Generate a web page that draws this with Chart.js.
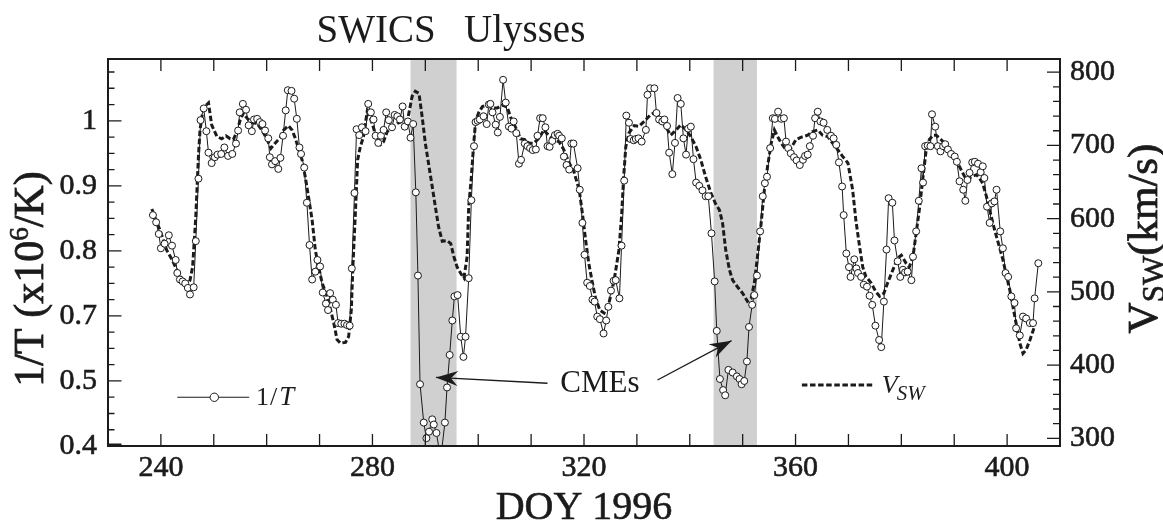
<!DOCTYPE html>
<html><head><meta charset="utf-8">
<script src="https://cdn.jsdelivr.net/npm/chart.js@4.4.1/dist/chart.umd.min.js"></script>
<style>html,body{margin:0;padding:0;background:#fff;overflow:hidden}canvas{display:block}</style>
</head><body>
<canvas id="c" width="1163" height="529" style="width:1163px;height:529px"></canvas>
<script>
// ---------- data ----------
const tDays = [238.5,239.1,239.6,240.0,240.7,241.5,242.1,242.8,243.1,243.6,244.1,244.6,245.1,245.5,246.2,246.6,247.1,247.5,248.1,248.6,
249.0,249.6,250.2,250.7,251.4,252.0,252.7,253.5,254.2,254.6,254.9,255.5,256.1,256.6,257.2,257.6,258.2,258.7,259.2,259.7,
260.3,260.6,261.0,261.6,262.2,262.6,263.1,263.6,264.0,264.7,265.2,265.7,266.2,266.5,267.1,267.6,268.1,268.6,269.2,269.6,
270.1,270.6,271.2,271.6,272.0,272.5,273.1,273.5,274.1,274.7,275.2,275.7,276.1,276.6,277.0,277.5,278.0,278.7,279.2,279.7,
280.2,280.6,281.1,281.6,282.1,282.6,283.1,283.7,284.2,284.7,285.2,285.7,286.1,286.7,287.2,287.7,288.2,288.6,289.0,
289.7,290.2,290.7,291.3,291.6,292.1,292.9,293.7,294.1,294.6,295.1,295.5,296.1,296.7,297.2,297.6,298.2,298.7,299.2,299.5,
299.9,300.3,301.0,301.6,302.0,302.3,302.7,303.3,303.7,304.1,304.7,305.2,305.8,306.3,306.7,307.2,307.7,308.1,308.8,309.3,
309.8,310.3,310.9,311.2,311.7,312.2,312.7,313.1,313.5,314.0,314.5,315.0,315.3,315.8,316.2,316.7,317.2,317.6,318.0,318.8,
319.2,319.7,320.1,320.6,321.1,321.6,322.0,322.5,323.0,323.7,324.2,324.6,325.1,325.6,326.0,326.7,327.1,327.6,328.0,328.5,
328.8,329.4,329.8,330.3,330.9,331.7,332.0,332.5,333.3,333.7,334.2,334.8,335.2,335.7,336.1,336.7,337.2,337.7,338.3,338.8,
339.3,339.7,340.2,340.7,341.2,341.8,342.4,343.0,343.5,344.1,344.7,345.1,
345.7,346.3,346.7,347.3,348.1,348.9,349.4,349.8,350.3,350.8,351.2,351.8,352.2,352.7,353.3,353.8,354.2,354.6,355.2,355.7,
356.1,356.7,357.3,357.8,358.2,358.6,359.1,359.7,360.2,360.8,361.4,361.8,362.3,362.7,363.3,363.7,364.2,364.7,365.3,366.0,
366.7,367.2,367.7,368.2,368.8,369.1,369.6,370.1,370.4,371.1,371.5,371.8,372.4,372.9,373.5,374.0,374.5,375.1,375.8,376.2,
376.7,377.2,377.6,378.3,378.7,379.3,379.8,380.3,380.7,381.2,381.9,382.2,382.8,383.3,383.8,384.1,384.5,385.0,385.5,385.8,
386.4,386.9,387.4,387.9,388.3,388.8,389.4,390.1,390.5,391.0,391.7,392.1,392.5,392.9,393.4,393.9,394.5,395.0,395.4,395.7,
396.2,396.7,397.1,397.6,398.0,398.7,399.2,399.7,400.2,400.8,401.4,401.7,402.4,403.0,403.6,404.3,404.9,405.2,405.9];
const tVals = [0.855,0.844,0.826,0.804,0.811,0.824,0.808,0.786,0.766,0.756,0.753,0.750,0.743,0.733,0.744,0.815,0.911,1.001,1.019,0.984,
0.951,0.935,0.944,0.948,0.949,0.959,0.946,0.949,0.965,0.985,1.013,1.026,1.017,0.993,0.984,1.002,1.003,0.998,0.995,0.985,
0.973,0.944,0.933,0.938,0.926,0.943,0.977,1.016,1.047,1.046,1.034,1.003,0.959,0.949,0.928,0.874,0.809,0.756,0.768,0.786,
0.776,0.736,0.719,0.709,0.735,0.725,0.717,0.689,0.688,0.688,0.686,0.685,0.773,0.889,0.987,0.978,0.990,0.984,1.026,1.013,
1.002,0.977,0.966,0.977,0.986,1.013,1.001,0.990,1.009,1.007,1.002,1.022,0.991,0.999,0.974,0.995,0.890,0.762,0.595,
0.536,0.512,0.522,0.541,0.533,0.520,0.480,0.536,0.590,0.640,0.693,0.730,0.732,0.668,0.637,0.668,0.758,0.878,0.961,0.998,
1.000,1.002,1.007,0.995,1.025,1.026,1.013,0.994,0.982,1.006,1.063,1.028,0.991,0.988,0.999,0.981,0.934,0.940,0.965,0.961,
0.958,0.955,0.956,0.977,1.004,1.004,0.990,0.961,0.960,0.969,0.978,0.980,0.977,0.973,0.945,0.932,0.925,0.965,0.965,0.927,
0.894,0.843,0.794,0.751,0.746,0.725,0.722,0.699,0.695,0.673,0.693,0.714,0.739,0.754,0.755,0.727,0.808,0.908,1.008,0.997,
0.972,0.970,0.972,0.973,0.968,0.986,1.040,1.050,1.050,1.012,1.002,0.999,1.002,0.992,0.951,0.918,0.966,1.035,1.026,0.973,
0.948,0.988,0.991,0.941,0.905,0.900,0.893,0.884,0.884,0.827,0.753,0.677,
0.603,0.586,0.578,0.617,0.613,0.607,0.603,0.595,0.600,0.630,0.683,0.717,0.732,0.762,0.830,0.884,0.904,0.914,0.958,1.004,
1.003,1.014,1.003,1.004,0.968,0.958,0.950,0.944,0.939,0.932,0.940,0.946,0.948,0.961,0.977,1.004,1.014,0.999,0.997,0.986,
0.977,0.973,0.963,0.936,0.899,0.855,0.796,0.775,0.760,0.787,0.773,0.766,0.760,0.748,0.745,0.731,0.717,0.685,0.663,0.652,
0.722,0.802,0.881,0.874,0.816,0.784,0.760,0.771,0.767,0.768,0.755,0.791,0.830,0.877,0.927,0.905,0.961,0.962,0.961,1.010,
0.991,0.961,0.953,0.961,0.964,0.956,0.949,0.945,0.937,0.907,0.894,0.877,0.909,0.920,0.936,0.937,0.934,0.921,0.930,0.912,
0.868,0.843,0.873,0.876,0.894,0.830,0.804,0.766,0.760,0.730,0.720,0.681,0.670,0.699,0.696,0.689,0.689,0.727,0.781];

const vDays = [238.3,238.9,239.8,241.1,242.1,243.0,244.0,245.0,245.5,246.0,246.6,247.1,247.4,248.0,249.0,249.6,250.6,251.5,252.3,253.1,
253.7,254.4,255.0,255.6,256.3,257.2,258.2,259.1,260.1,260.8,261.6,262.6,263.2,264.1,264.8,265.4,266.0,266.7,267.3,267.9,
268.6,269.2,269.8,270.5,271.4,272.0,272.7,273.3,273.9,274.9,275.5,276.0,276.3,276.8,277.2,277.7,278.3,279.0,279.6,280.2,
280.9,281.5,282.1,282.8,283.7,284.7,285.6,286.6,287.5,288.1,288.8,
289.4,290.0,290.7,291.3,291.9,292.5,293.2,294.1,294.8,295.4,296.0,296.7,297.3,297.9,298.2,298.7,299.1,299.5,300.1,300.8,
301.7,302.7,303.6,304.6,305.5,306.1,307.1,308.0,308.8,309.6,310.5,311.5,312.4,313.4,314.3,315.3,316.2,317.2,318.1,319.1,
319.7,320.3,320.9,321.6,322.2,323.0,323.8,324.7,325.7,326.6,327.1,327.5,327.9,328.5,329.5,330.4,331.7,332.6,333.6,334.5,
335.5,336.4,337.4,338.3,339.3,340.2,341.2,342.1,343.0,344.0,344.9,
345.6,346.2,346.8,347.5,348.1,349.0,350.0,350.9,351.6,352.2,352.8,353.5,354.1,354.7,355.4,356.0,356.6,357.3,358.2,359.1,
360.1,361.0,362.3,363.2,364.2,365.1,366.1,367.0,368.0,368.9,369.9,370.8,371.4,372.1,372.7,373.3,374.3,375.2,375.9,376.7,
377.4,378.4,379.3,380.0,380.9,381.5,382.2,382.8,383.4,384.1,384.7,385.3,386.0,386.6,387.5,388.8,390.1,391.0,392.0,392.6,
393.2,394.2,394.8,395.4,396.1,396.7,397.3,398.0,398.6,399.2,399.9,400.5,401.1,401.8,402.4,403.0,403.6,404.3,405.2];
const vVals = [613,601,585,557,544,530,516,509,516,534,603,685,721,751,758,728,712,709,713,709,
708,719,735,744,737,731,730,721,708,696,703,711,721,727,721,710,696,680,657,630,
598,557,534,512,494,478,457,435,430,431,439,475,534,612,680,698,712,746,737,724,
705,701,705,719,724,730,733,733,767,774,771,
739,703,671,644,616,589,569,570,566,548,534,525,519,548,616,657,698,733,745,753,
755,751,751,755,752,739,724,709,708,703,703,710,721,713,708,705,694,676,664,639,
607,571,539,512,491,475,471,484,516,557,603,657,698,717,727,726,735,742,746,735,
725,714,721,728,721,712,698,680,657,635,620,
612,594,557,530,516,507,498,487,491,512,548,594,639,671,703,721,712,703,694,696,
708,711,714,719,721,714,712,703,694,685,676,639,598,562,534,521,512,500,494,498,
512,530,546,550,539,534,548,580,612,657,694,708,714,714,708,698,685,671,657,653,
657,660,655,648,630,612,594,575,560,544,521,503,480,453,430,416,421,434,453];

const xTickLabels = [240, 280, 320, 360, 400];
const leftTickValues = [0.5, 0.6, 0.7, 0.8, 0.9, 1.0];
const leftTickLabels = ["0.4", "0.5", "0.7", "0.8", "0.9", "1"];
const rightTickLabels = [300, 400, 500, 600, 700, 800];
const cmeBands = [[287.2, 295.9], [344.5, 352.7]];
const cmeArrows = [[[313.1, 0.5965], [292.0, 0.6054]], [[333.9, 0.6015], [347.9, 0.662]]];
const cmeLabel = {text: "CMEs", day: 315.5, val: 0.5826};
const legendT = {from: 243.1, to: 256.7, mark: 250.1, val: 0.5749, textDay: 258.0, textVal: 0.5631};
const legendV = {from: 361.2, to: 374.8, val: 0.5938, textDay: 376.3, textVal: 0.5811};

// ---------- chart ----------
const INK = '#1b1b1b';
const FAM = '"Liberation Serif", "Times New Roman", serif';
const tData = tDays.slice(0, Math.min(tDays.length, tVals.length)).map((d, i) => ({x: d, y: tVals[i]}));
const vData = vDays.slice(0, Math.min(vDays.length, vVals.length)).map((d, i) => ({x: d, y: vVals[i]}));

function range(a, b, s) { const out = []; const n = Math.round((b - a) / s); for (let i = 0; i <= n; i++) out.push(+(a + i * s).toFixed(4)); return out; }
const xTickPos = range(230, 410, 10);
const yTickPos = range(0.5, 1.075, 0.025);
const y2TickPos = range(300, 800, 20);

function parts(ctx, list, x, y) {
  let cx = x;
  for (const p of list) {
    ctx.font = p.font;
    ctx.fillText(p.t, cx, y + (p.dy || 0));
    if (p.sw) { ctx.lineWidth = p.sw; ctx.strokeText(p.t, cx, y + (p.dy || 0)); }
    cx += ctx.measureText(p.t).width + (p.gap || 0);
  }
  return cx - x;
}
function measureParts(ctx, list) {
  let w = 0;
  for (const p of list) { ctx.font = p.font; w += ctx.measureText(p.t).width + (p.gap || 0); }
  return w;
}
function arrow(ctx, x0, y0, x1, y1) {
  ctx.beginPath(); ctx.moveTo(x0, y0); ctx.lineTo(x1, y1); ctx.lineWidth = 1.3; ctx.stroke();
  const ang = Math.atan2(y1 - y0, x1 - x0), L = 22, W = 7.5, N = 15;
  ctx.save(); ctx.translate(x1, y1); ctx.rotate(ang);
  ctx.beginPath(); ctx.moveTo(0, 0); ctx.lineTo(-L, -W); ctx.lineTo(-N, 0); ctx.lineTo(-L, W); ctx.closePath(); ctx.fill();
  ctx.restore();
}

const decor = {
  id: 'decor',
  beforeDraw(chart) {
    const {ctx, width, height} = chart;
    ctx.save(); ctx.fillStyle = '#fff'; ctx.fillRect(0, 0, width, height); ctx.restore();
  },
  beforeDatasetsDraw(chart) {
    const {ctx, chartArea: a, scales: {x}} = chart;
    ctx.save(); ctx.fillStyle = '#d0d0d0';
    for (const [s, e] of cmeBands) {
      const x0 = x.getPixelForValue(s), x1 = x.getPixelForValue(e);
      ctx.fillRect(x0, a.top, x1 - x0, a.bottom - a.top);
    }
    ctx.restore();
  },
  afterDatasetsDraw(chart) {
    const {ctx, chartArea: a, scales: {x, y, y2}} = chart;
    ctx.save();
    ctx.strokeStyle = INK; ctx.fillStyle = INK; ctx.lineWidth = 1.3;
    ctx.beginPath();
    for (const t of x.ticks) {
      const px = x.getPixelForValue(t.value);
      if (px <= a.left + 1 || px >= a.right - 1) continue;
      ctx.moveTo(px, a.bottom); ctx.lineTo(px, a.bottom - 12);
      ctx.moveTo(px, a.top); ctx.lineTo(px, a.top + 12);
    }
    for (const t of y.ticks) {
      const py = y.getPixelForValue(t.value);
      const major = leftTickValues.some(v => Math.abs(v - t.value) < 1e-6);
      ctx.moveTo(a.left, py); ctx.lineTo(a.left + (major ? 13.5 : 6.5), py);
    }
    for (const t of y2.ticks) {
      const py = y2.getPixelForValue(t.value);
      const major = rightTickLabels.includes(Math.round(t.value));
      ctx.moveTo(a.right, py); ctx.lineTo(a.right - (major ? 13 : 7), py);
    }
    ctx.stroke();
    // heavier corner tick at the axis origin
    ctx.lineWidth = 3; ctx.beginPath();
    ctx.moveTo(a.left, y.getPixelForValue(leftTickValues[0]) - 1); ctx.lineTo(a.left + 13.5, y.getPixelForValue(leftTickValues[0]) - 1); ctx.stroke();
    // frame
    ctx.lineWidth = 2; ctx.strokeRect(a.left, a.top, a.right - a.left, a.bottom - a.top);

    // arrows
    for (const [[d0, v0], [d1, v1]] of cmeArrows) {
      arrow(ctx, x.getPixelForValue(d0), y.getPixelForValue(v0), x.getPixelForValue(d1), y.getPixelForValue(v1));
    }
    ctx.textBaseline = 'alphabetic'; ctx.textAlign = 'left';
    ctx.font = '31px ' + FAM;
    ctx.fillText(cmeLabel.text, x.getPixelForValue(cmeLabel.day), y.getPixelForValue(cmeLabel.val));

    // legend 1/T
    const ly = y.getPixelForValue(legendT.val);
    ctx.lineWidth = 1.1; ctx.beginPath();
    ctx.moveTo(x.getPixelForValue(legendT.from), ly); ctx.lineTo(x.getPixelForValue(legendT.to), ly); ctx.stroke();
    ctx.beginPath(); ctx.arc(x.getPixelForValue(legendT.mark), ly, 4.2, 0, Math.PI * 2);
    ctx.fillStyle = '#fff'; ctx.fill(); ctx.lineWidth = 1; ctx.stroke(); ctx.fillStyle = INK;
    parts(ctx, [{t: '1', font: '26px ' + FAM, gap: 1}, {t: '/', font: '26px ' + FAM, gap: 2}, {t: 'T', font: 'italic 27px ' + FAM}],
      x.getPixelForValue(legendT.textDay), y.getPixelForValue(legendT.textVal));

    // legend V_SW
    const vy = y.getPixelForValue(legendV.val);
    ctx.save(); ctx.lineWidth = 3; ctx.setLineDash([5.5, 2.6]); ctx.beginPath();
    ctx.moveTo(x.getPixelForValue(legendV.from), vy); ctx.lineTo(x.getPixelForValue(legendV.to), vy); ctx.stroke(); ctx.restore();
    parts(ctx, [{t: 'V', font: 'italic 26px ' + FAM, gap: -1}, {t: 'SW', font: 'italic 21px ' + FAM, dy: 7}],
      x.getPixelForValue(legendV.textDay), y.getPixelForValue(legendV.textVal));

    // title
    ctx.font = '39px ' + FAM;
    ctx.fillText('SWICS', 316.5, 41.5);
    ctx.fillText('Ulysses', 464, 41.5);

    // x title
    ctx.textAlign = 'center';
    ctx.font = '40px ' + FAM; ctx.lineWidth = 0.6; ctx.strokeStyle = INK;
    ctx.fillText('DOY 1996', (a.left + a.right) / 2, 519); ctx.strokeText('DOY 1996', (a.left + a.right) / 2, 519);
    ctx.textAlign = 'left';

    // left y title (rotated)
    const lt = [{t: '1/T (x10', font: '42px ' + FAM, sw: 0.8}, {t: '6', font: '27px ' + FAM, dy: -15, sw: 0.6}, {t: '/K)', font: '42px ' + FAM, sw: 0.8}];
    ctx.save(); ctx.translate(42.5, 279); ctx.rotate(-Math.PI / 2);
    parts(ctx, lt, -measureParts(ctx, lt) / 2, 0); ctx.restore();

    // right y title (rotated)
    const rt = [{t: 'V', font: '43px ' + FAM, sw: 0.8}, {t: 'SW', font: '31px ' + FAM, dy: 7, sw: 0.6}, {t: '(km/s)', font: '43px ' + FAM, sw: 0.8}];
    ctx.save(); ctx.translate(1156.5, 238.5); ctx.rotate(-Math.PI / 2);
    parts(ctx, rt, -measureParts(ctx, rt) / 2, 0); ctx.restore();

    ctx.restore();
  }
};

const tickFont = {family: 'Liberation Serif', size: 30};
new Chart(document.getElementById('c'), {
  type: 'scatter',
  data: {
    datasets: [
      {label: 'V_SW', data: vData, yAxisID: 'y2', showLine: true, borderColor: INK, borderWidth: 3,
       borderDash: [5.5, 2.6], pointRadius: 0, pointHoverRadius: 0, tension: 0, fill: false, order: 2},
      {label: '1/T', data: tData, yAxisID: 'y', showLine: true, borderColor: INK, borderWidth: 1,
       pointRadius: 3.5, pointHoverRadius: 3.5, pointBackgroundColor: '#fff', pointBorderColor: INK,
       pointBorderWidth: 1, tension: 0, fill: false, order: 1}
    ]
  },
  options: {
    responsive: false, animation: false, devicePixelRatio: 1,
    layout: {padding: {top: 59, left: 0, right: 0, bottom: 0}},
    plugins: {legend: {display: false}, title: {display: false}, tooltip: {enabled: false}},
    events: [],
    scales: {
      x: {
        type: 'linear', position: 'bottom', min: 230, max: 410,
        grid: {display: false, drawTicks: false}, border: {display: false},
        afterBuildTicks: s => { s.ticks = xTickPos.map(v => ({value: v})); },
        ticks: {autoSkip: false, maxRotation: 0, padding: 4, font: tickFont, color: INK,
                textStrokeColor: INK, textStrokeWidth: 0.6,
                callback: v => xTickLabels.includes(Math.round(v)) ? String(Math.round(v)) : ''},
        afterFit: s => { s.height = 83; }
      },
      y: {
        type: 'linear', position: 'left', min: 0.5, max: 1.095,
        grid: {display: false, drawTicks: false}, border: {display: false},
        afterBuildTicks: s => { s.ticks = yTickPos.map(v => ({value: v})); },
        ticks: {autoSkip: false, padding: 11, font: tickFont, color: INK,
                textStrokeColor: INK, textStrokeWidth: 0.6,
                callback: v => { const i = leftTickValues.findIndex(t => Math.abs(t - v) < 1e-6); return i >= 0 ? leftTickLabels[i] : ''; }},
        afterFit: s => { s.width = 108; }
      },
      y2: {
        type: 'linear', position: 'right', min: 289.5, max: 818,
        grid: {display: false, drawTicks: false}, border: {display: false},
        afterBuildTicks: s => { s.ticks = y2TickPos.map(v => ({value: v})); },
        ticks: {autoSkip: false, padding: 10, font: tickFont, color: INK,
                textStrokeColor: INK, textStrokeWidth: 0.6,
                callback: v => rightTickLabels.includes(Math.round(v)) ? String(Math.round(v)) : ''},
        afterFit: s => { s.width = 103; }
      }
    }
  },
  plugins: [decor]
});
</script>
</body></html>
